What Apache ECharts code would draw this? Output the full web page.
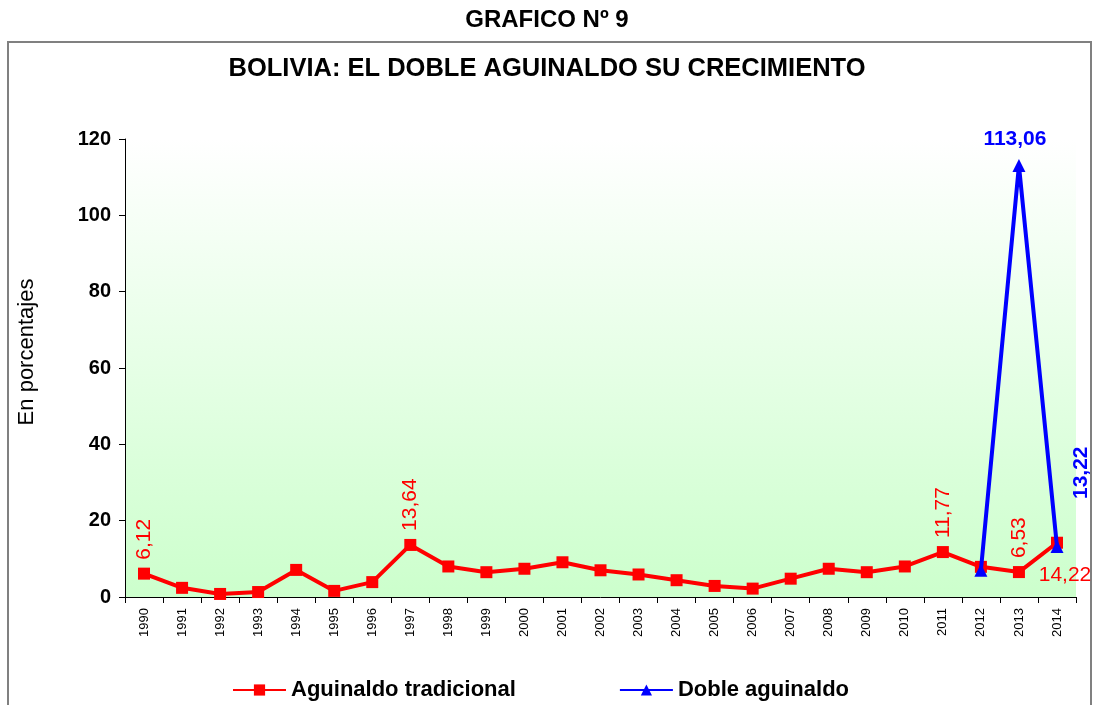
<!DOCTYPE html>
<html>
<head>
<meta charset="utf-8">
<script src="https://cdn.jsdelivr.net/npm/echarts@6/dist/echarts.min.js"></script>
<style>
  html, body { margin: 0; padding: 0; background: #fff; }
  #chart { width: 1094px; height: 705px; }
</style>
</head>
<body>
<div id="chart"></div>
<script>
// years on the x axis
const years = ["1990", "1991", "1992", "1993", "1994", "1995", "1996", "1997", "1998", "1999",
  "2000", "2001", "2002", "2003", "2004", "2005", "2006", "2007", "2008", "2009",
  "2010", "2011", "2012", "2013", "2014"];

// growth in percent
const tradicional = [6.12, 2.4, 0.8, 1.3, 7.1, 1.6, 3.9, 13.64, 8.0, 6.5,
  7.4, 9.1, 7.0, 5.9, 4.4, 2.9, 2.2, 4.8, 7.4, 6.5,
  8.0, 11.77, 7.9, 6.53, 14.22];
const doble = [null, null, null, null, null, null, null, null, null, null,
  null, null, null, null, null, null, null, null, null, null,
  null, null, 7.0, 113.06, 13.22];

const yTicks = [0, 20, 40, 60, 80, 100, 120];

const FONT = "Liberation Sans, Arial, sans-serif";
const fmt = v => String(v.toFixed(2)).replace(".", ",");

// which red points carry a vertical label
const redLabeled = ["1990", "1997", "2011", "2013"];

const vLabel = (color, bold) => ({
  show: true,
  position: "top",
  distance: 8,
  rotate: 90,
  align: "left",
  verticalAlign: "middle",
  color: color,
  fontSize: 21,
  fontWeight: bold ? "bold" : "normal",
  fontFamily: FONT,
  formatter: p => fmt(p.value)
});

const redData = tradicional.map((v, i) => {
  if (years[i] === "2014") {
    return {
      value: v,
      label: {
        show: true, position: "bottom", distance: 16, offset: [8, 0],
        color: "#ff0000", fontSize: 21, fontFamily: FONT,
        formatter: p => fmt(p.value)
      }
    };
  }
  if (redLabeled.includes(years[i])) return { value: v, label: vLabel("#ff0000", false) };
  return v;
});

const blueData = doble.map((v, i) => {
  if (years[i] === "2013") {
    return {
      value: v,
      label: {
        show: true, position: "top", distance: 9, offset: [-4, 0],
        color: "#0000ff", fontSize: 21, fontWeight: "bold", fontFamily: FONT,
        formatter: p => fmt(p.value)
      }
    };
  }
  if (years[i] === "2014") {
    const l = vLabel("#0000ff", true);
    l.position = [31, -41];
    return { value: v, label: l };
  }
  return v;
});

const chart = echarts.init(document.getElementById("chart"));
chart.setOption({
  animation: false,
  textStyle: { fontFamily: FONT },
  graphic: [
    {
      type: "rect",
      shape: { x: 8, y: 42, width: 1083, height: 700 },
      style: { fill: "none", stroke: "#808080", lineWidth: 2 },
      z: -10
    },
    {
      type: "text",
      left: "center",
      top: 8,
      style: { text: "GRAFICO Nº 9", fontSize: 24, fontWeight: "bold", fill: "#000", fontFamily: FONT }
    },
    {
      type: "text",
      left: "center",
      top: 56,
      style: { text: "BOLIVIA: EL DOBLE AGUINALDO SU CRECIMIENTO", fontSize: 25.5, fontWeight: "bold",
        fill: "#000", fontFamily: FONT }
    },
    {
      type: "text",
      x: 27,
      y: 352,
      rotation: Math.PI / 2,
      style: { text: "En porcentajes", fontSize: 22, fill: "#000", fontFamily: FONT,
        align: "center", verticalAlign: "middle" }
    }
  ],
  grid: {
    left: 125,
    right: 18,
    top: 139,
    bottom: 108,
    show: true,
    borderWidth: 0,
    backgroundColor: new echarts.graphic.LinearGradient(0, 0, 0, 1, [
      { offset: 0, color: "#ffffff" },
      { offset: 1, color: "#ccffcc" }
    ])
  },
  legend: {
    left: 227,
    top: 674,
    itemWidth: 53,
    itemHeight: 14,
    itemGap: 103,
    textStyle: { fontSize: 22, fontWeight: "bold", color: "#000" },
    data: ["Aguinaldo tradicional", "Doble aguinaldo"]
  },
  xAxis: {
    type: "category",
    data: years,
    boundaryGap: true,
    axisLine: { lineStyle: { color: "#000", width: 1 } },
    axisTick: { show: true, interval: 0, length: 6, lineStyle: { color: "#000" } },
    axisLabel: { interval: 0, rotate: 90, fontSize: 13, color: "#000", margin: 11 }
  },
  yAxis: {
    type: "value",
    min: 0,
    max: 120,
    interval: 20,
    splitLine: { show: false },
    axisLine: { show: true, lineStyle: { color: "#000", width: 1 } },
    axisTick: { show: true, length: 6, lineStyle: { color: "#000" } },
    axisLabel: {
      fontSize: 20, fontWeight: "bold", color: "#000", margin: 14,
      formatter: v => (yTicks.includes(v) ? String(v) : "")
    }
  },
  series: [
    {
      name: "Aguinaldo tradicional",
      type: "line",
      data: redData,
      symbol: "rect",
      symbolSize: 12,
      lineStyle: { color: "#ff0000", width: 4 },
      itemStyle: { color: "#ff0000" },
      z: 3
    },
    {
      name: "Doble aguinaldo",
      type: "line",
      data: blueData,
      symbol: "triangle",
      symbolSize: 13,
      lineStyle: { color: "#0000ff", width: 4 },
      itemStyle: { color: "#0000ff" },
      z: 4
    }
  ]
});
</script>
</body>
</html>
